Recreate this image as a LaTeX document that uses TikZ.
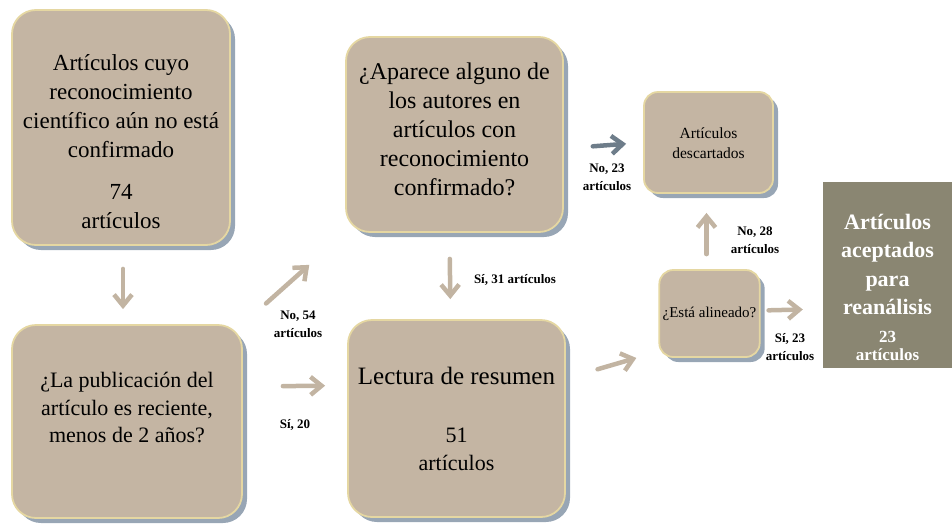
\documentclass[tikz,border=0pt]{standalone}
\usepackage{fontspec}
\setmainfont{Liberation Serif}
\usetikzlibrary{arrows.meta,positioning,shadows}
\definecolor{cardfill}{RGB}{196,181,163}
\definecolor{cardline}{RGB}{229,215,162}
\definecolor{cardshade}{RGB}{152,166,181}
\definecolor{keep}{RGB}{138,134,114}
\definecolor{flow}{RGB}{194,180,162}
\definecolor{flowgrey}{RGB}{110,125,138}
\tikzset{
    card/.style={rectangle, rounded corners=24pt, fill=cardfill, draw=cardline, line width=1.8pt,
        copy shadow={shadow xshift=5pt, shadow yshift=-5pt, fill=cardshade, draw=none}},
    smallcard/.style={card, rounded corners=14pt},
    cardtxt/.style={align=center, inner sep=0pt, anchor=north},
    keepbox/.style={rectangle, fill=keep, draw=none},
    flowarr/.style={-{Straight Barb[length=11pt,width=18pt]}, line width=4.5pt, line cap=round, flow},
    lbl/.style={font=\bfseries\fontsize{13}{18}\selectfont, align=center, inner sep=0pt}
}

\begin{document}
\begin{tikzpicture}[x=1pt, y=-1pt]
    \useasboundingbox (0,0) rectangle (952,525);

    % boxes
    \node[card, minimum width=218pt, minimum height=235pt] (recog) at (121,127.5) {};
    \node[card, minimum width=230pt, minimum height=193pt] (recent) at (127,421.5) {};
    \node[card, minimum width=217pt, minimum height=195pt] (authors) at (454.5,134.5) {};
    \node[card, minimum width=217pt, minimum height=197pt] (summary) at (456.5,418.5) {};
    \node[smallcard, minimum width=129pt, minimum height=101pt] (discard) at (708.5,142.5) {};
    \node[smallcard, minimum width=99pt, minimum height=87pt, font=\fontsize{15}{18}\selectfont] (aligned) at (709.5,313.5) {¿Está alineado?};
    \node[keepbox, minimum width=129pt, minimum height=186pt] (accepted) at (887.5,275) {};

    % box texts
    \node[cardtxt, font=\fontsize{23}{29}\selectfont, below=45pt of recog.north] (recogtxt)
        {Artículos cuyo\\reconocimiento\\científico aún no está\\confirmado\\[13pt]74\\artículos};
    \node[cardtxt, font=\fontsize{22}{27.5}\selectfont, below=48pt of recent.north] (recenttxt)
        {¿La publicación del\\artículo es reciente,\\menos de 2 años?};
    \node[cardtxt, font=\fontsize{24}{29}\selectfont, below=27pt of authors.north] (authorstxt)
        {¿Aparece alguno de\\los autores en\\artículos con\\reconocimiento\\confirmado?};
    \node[cardtxt, font=\fontsize{22}{28}\selectfont, below=48pt of summary.north] (summarytxt)
        {{\fontsize{25}{28}\selectfont Lectura de resumen}\\[29.5pt]51\\artículos};
    \node[cardtxt, font=\fontsize{15.5}{20}\selectfont, below=36pt of discard.north] (discardtxt)
        {Artículos\\descartados};
    \node[cardtxt, text=white, font=\bfseries\fontsize{22}{28.5}\selectfont, below=32pt of accepted.north] (acceptedtxt)
        {Artículos\\aceptados\\para\\reanálisis\\[-1pt]{\fontsize{17}{20}\selectfont 23}\\[-10.5pt]{\fontsize{17}{20}\selectfont artículos}};

    % arrows
    \draw[flowarr, shorten <=23pt, shorten >=15pt] ([xshift=2pt]recog.south) -- ([xshift=-4pt]recent.north);
    \draw[flowarr, shorten <=31pt, shorten >=48pt] (recent.north east) -- (authors.south west);
    \draw[flowarr, shorten <=40pt, shorten >=22pt] ([yshift=35pt]recent.east) -- ([yshift=33pt]summary.west);
    \draw[flowarr, shorten <=26pt, shorten >=20pt] ([xshift=-5pt]authors.south) -- ([xshift=-6pt]summary.north);
    \draw[flowarr, shorten <=33pt, shorten >=23pt] ([yshift=40pt]summary.east) -- ([yshift=-38pt]aligned.west);
    \draw[flowarr, flowgrey, shorten <=29pt, shorten >=17pt] ([yshift=-14pt]authors.east) -- (discard.west);
    \draw[flowarr, shorten <=15pt, shorten >=19pt] ([xshift=-3pt]aligned.north) -- ([xshift=-2pt]discard.south);
    \draw[flowarr, shorten <=8pt, shorten >=20pt] ([yshift=3pt]aligned.east) -- ([yshift=-34pt]accepted.west);

    % labels
    \node[lbl] (no54) at (298,324) {No, 54\\artículos};
    \node[lbl] (si20) at (295,425) {Sí, 20};
    \node[lbl] (si31) at (515,280) {Sí, 31 artículos};
    \node[lbl] (no23) at (607,177) {No, 23\\artículos};
    \node[lbl] (no28) at (755,240) {No, 28\\artículos};
    \node[lbl] (si23) at (790,347) {Sí, 23\\artículos};
\end{tikzpicture}
\end{document}
